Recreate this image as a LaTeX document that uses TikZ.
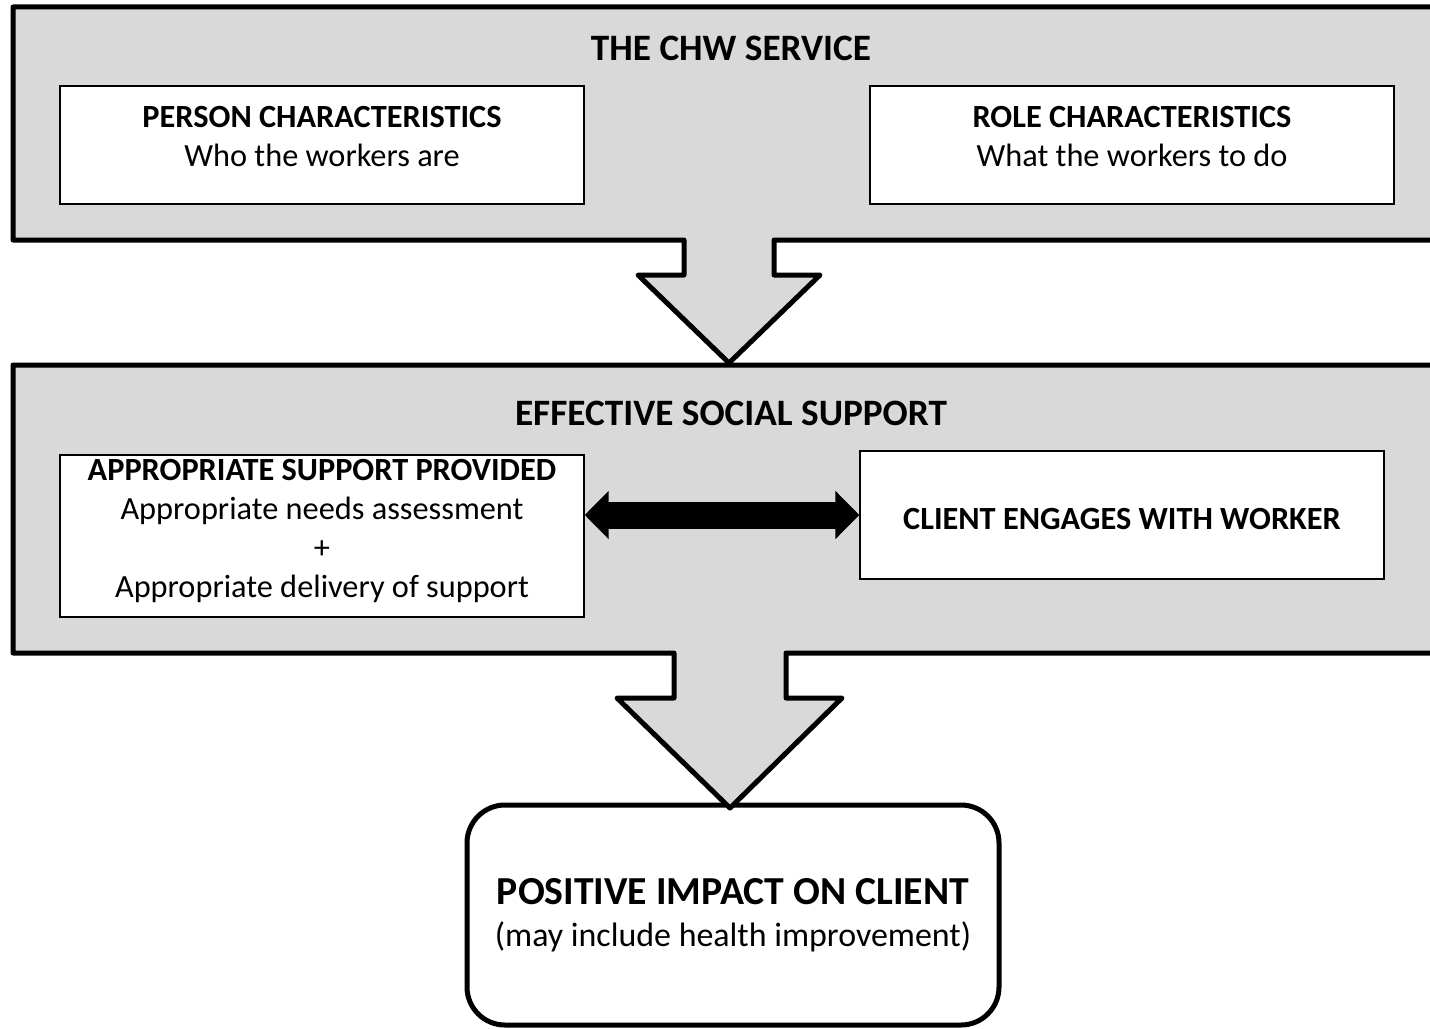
\documentclass[tikz,border=0pt]{standalone}
\usepackage{fontspec}
\setmainfont{Carlito}
\usetikzlibrary{arrows.meta, positioning}
\definecolor{panelgray}{HTML}{D9D9D9}

\begin{document}
\begin{tikzpicture}[
        panel/.style={draw, fill=panelgray, line width=0.05cm, line join=round},
        heading/.style={font=\fontsize{10.6pt}{12pt}\selectfont\bfseries},
        item/.style={rectangle, draw, line width=0.4pt, fill=white, align=center, minimum width=5.24cm, inner sep=0pt, font=\fontsize{9.2pt}{11.1pt}\selectfont},
        outcome/.style={rectangle, draw, rounded corners=0.38cm, line width=0.05cm, fill=white, align=center, minimum width=5.32cm, minimum height=2.2cm, inner sep=0pt, font=\fontsize{9.65pt}{11.9pt}\selectfont},
        link/.style={{Triangle[length=0.24cm, width=0.47cm]}-{Triangle[length=0.24cm, width=0.47cm]}, line width=0.27cm}
        ]

        \useasboundingbox (0,0) rectangle (14.30,-10.28);

        % Outcome box (drawn first so the arrow tip sits on it)
        \node (impact) [outcome] at (7.33,-9.15) {\textbf{\fontsize{11.3pt}{12pt}\selectfont POSITIVE IMPACT ON CLIENT}\\(may include health improvement)};

        % Panels with block arrows
        \filldraw [panel] (14.45,-3.65) -- (0.13,-3.65) -- (0.13,-6.53) -- (6.74,-6.53) -- (6.74,-6.98) -- (6.17,-6.98) -- (7.30,-8.08) -- (8.42,-6.98) -- (7.86,-6.98) -- (7.86,-6.53) -- (14.45,-6.53);
        \filldraw [panel] (14.45,-0.07) -- (0.13,-0.07) -- (0.13,-2.40) -- (6.84,-2.40) -- (6.84,-2.75) -- (6.38,-2.75) -- (7.29,-3.63) -- (8.20,-2.75) -- (7.74,-2.75) -- (7.74,-2.40) -- (14.45,-2.40);

        % Nodes
        \node (service) [heading] at (7.31,-0.48) {THE CHW SERVICE};
        \node (person) [item, minimum height=1.18cm, text depth=0.18cm] at (3.22,-1.45) {\textbf{PERSON CHARACTERISTICS}\\Who the workers are};
        \node (role) [item, minimum height=1.18cm, text depth=0.18cm] at (11.32,-1.45) {\textbf{ROLE CHARACTERISTICS}\\What the workers to do};
        \node (support) [heading] at (7.31,-4.13) {EFFECTIVE SOCIAL SUPPORT};
        \node (appr) [item, minimum height=1.62cm, text depth=0.15cm] at (3.22,-5.36) {\textbf{APPROPRIATE SUPPORT PROVIDED}\\Appropriate needs assessment\\+\\Appropriate delivery of support};
        \node (client) [item, minimum height=1.28cm, text height=0.29cm] at (11.22,-5.15) {\textbf{CLIENT ENGAGES WITH WORKER}};

        % Two-way arrow
        \draw [link] (appr.east |- client.west) -- (client.west);

    \end{tikzpicture}
\end{document}
